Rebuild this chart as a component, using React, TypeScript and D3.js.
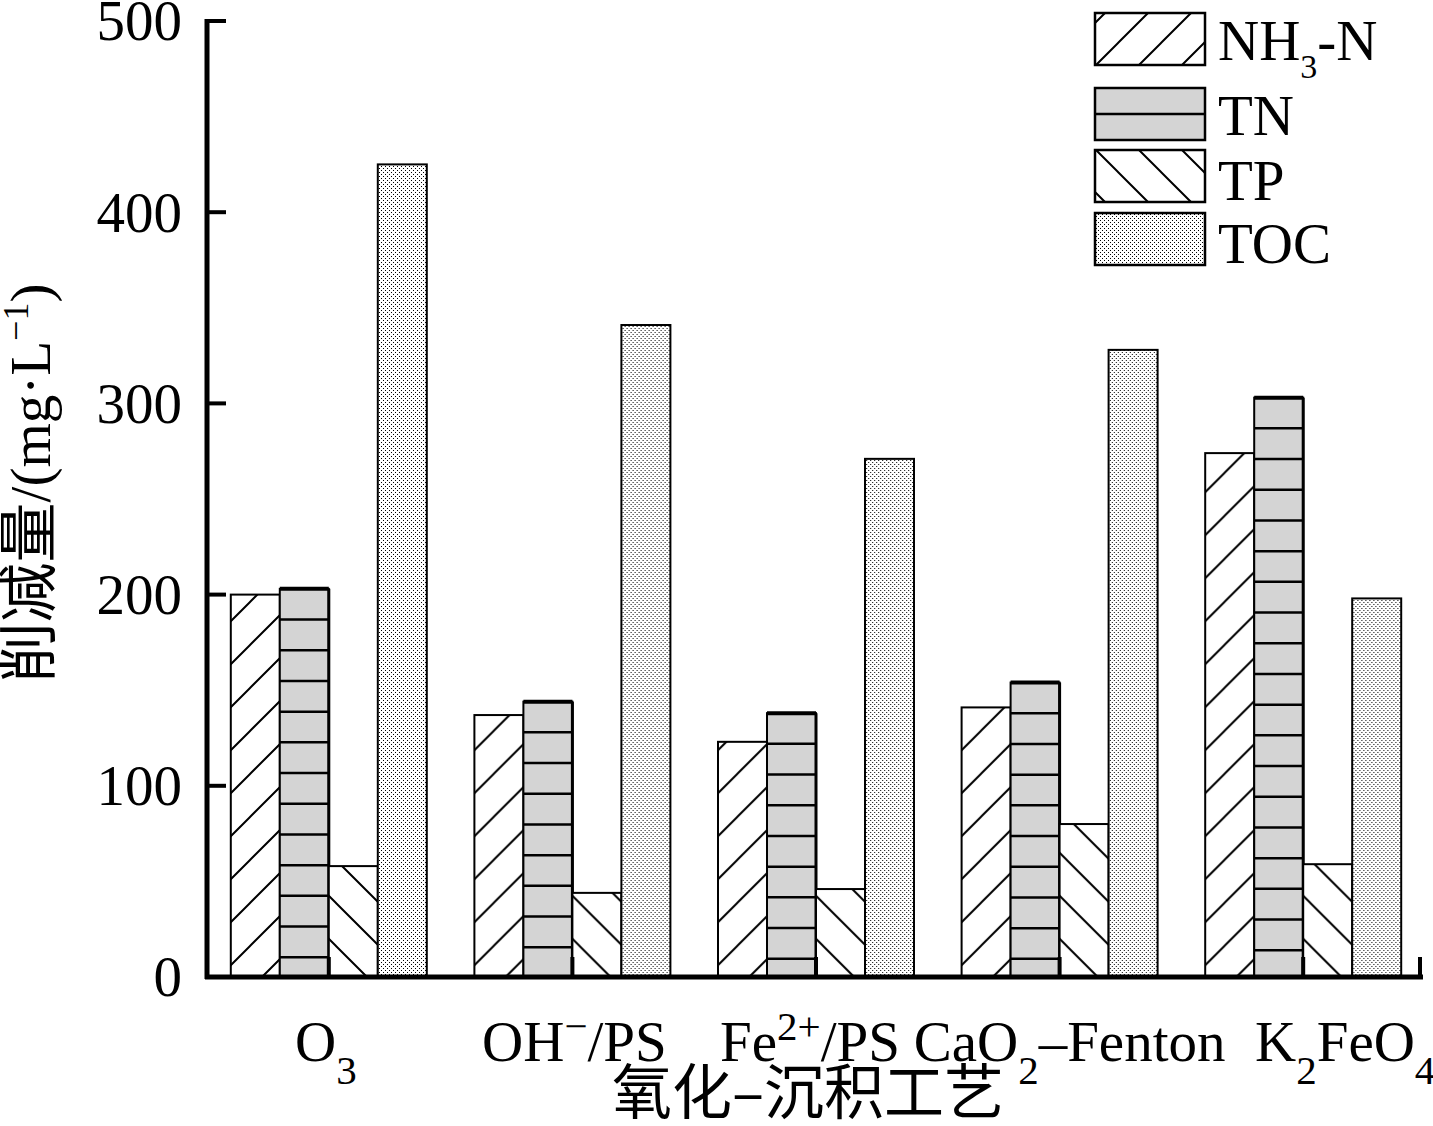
import React from 'react';
import * as d3 from 'd3';

// categories (x axis) and their rich labels: [text, 'sub' | 'sup' | '']
const categories = ['O3', 'OH-/PS', 'Fe2+/PS', 'CaO2-Fenton', 'K2FeO4'];
const categoryLabels: [string, string][][] = [
  [['O', ''], ['3', 'sub']],
  [['OH', ''], ['−', 'sup'], ['/PS', '']],
  [['Fe', ''], ['2+', 'sup'], ['/PS', '']],
  [['CaO', ''], ['2', 'sub'], ['–Fenton', '']],
  [['K', ''], ['2', 'sub'], ['FeO', ''], ['4', 'sub']],
];

const seriesNames = ['NH3-N', 'TN', 'TP', 'TOC'];
const seriesLabels: [string, string][][] = [
  [['NH', ''], ['3', 'sub'], ['-N', '']],
  [['TN', '']],
  [['TP', '']],
  [['TOC', '']],
];

// reduction amounts, mg/L
const nh3n = [200, 137, 123, 141, 274];
const tn = [203, 144, 138, 154, 303];
const tp = [58, 44, 46, 80, 59];
const toc = [425, 341, 271, 328, 198];

const yTicks = [0, 100, 200, 300, 400, 500];

const W = 1433;
const H = 1126;
const serif = '"Liberation Serif", "Times New Roman", serif';
const cjk = '"Noto Sans CJK SC", sans-serif';
const FS = 57;
const GRAY = '#d4d4d4';

function rich(parts: [string, string][], subDy: number, supDy: number, small: number) {
  let shift = 0;
  return parts.map(([t, kind], i) => {
    const target = kind === 'sub' ? subDy : kind === 'sup' ? -supDy : 0;
    const dy = target - shift;
    shift = target;
    return (
      <tspan key={i} dy={dy} fontSize={kind ? small : undefined}>
        {t}
      </tspan>
    );
  });
}

const App: React.FC = () => {
  const left = 207;
  const right = 1425;
  const bottom = 977;
  const top = 21;

  const y = d3.scaleLinear().domain([0, 500]).range([bottom, top]);
  const x0 = d3.scaleBand<string>().domain(categories).range([left, right]).padding(0);
  const bw = x0.bandwidth();
  const barW = 49;
  const x1 = d3
    .scaleBand<string>()
    .domain(seriesNames)
    .range([bw / 2 - 2 * barW, bw / 2 + 2 * barW])
    .padding(0);

  const values: Record<string, number[]> = { 'NH3-N': nh3n, TN: tn, TP: tp, TOC: toc };
  const fills: Record<string, string> = {
    'NH3-N': 'url(#hatchUp)',
    TN: GRAY,
    TP: 'url(#hatchDown)',
    TOC: 'url(#dots)',
  };

  const tnStep = 30.7;
  const labelShift = [-3, 2, -6, 10, 42];
  const legendY = [13, 88, 150, 213];
  const legendBase = [60, 135, 200, 263];

  return (
    <svg width={W} height={H} style={{ position: 'absolute', left: 0, top: 0, background: '#fff' }}>
      <defs>
        <pattern id="hatchUp" patternUnits="userSpaceOnUse" width={43} height={43}>
          <rect width={43} height={43} fill="#fff" />
          <path d="M0,43 L43,0 M-5,5 L5,-5 M38,48 L48,38" stroke="#000" strokeWidth={2} />
        </pattern>
        <pattern id="hatchDown" patternUnits="userSpaceOnUse" width={43} height={43}>
          <rect width={43} height={43} fill="#fff" />
          <path d="M0,0 L43,43 M-5,38 L5,48 M38,-5 L48,5" stroke="#000" strokeWidth={2} />
        </pattern>
        <pattern id="dots" patternUnits="userSpaceOnUse" width={4} height={4}>
          <rect width={4} height={4} fill="#fff" />
          <rect x={0} y={0} width={1} height={1} fill="#000" />
          <rect x={2} y={2} width={1} height={1} fill="#000" />
        </pattern>
      </defs>

      {/* bars */}
      {categories.map((c, ci) => (
        <g key={c} transform={`translate(${x0(c)},0)`}>
          {seriesNames.map((s) => {
            const v = values[s][ci];
            const bx = x1(s)!;
            const by = y(v);
            const bh = bottom - by;
            const lines: number[] = [];
            if (s === 'TN') {
              for (let ly = by + tnStep; ly < bottom - 2; ly += tnStep) lines.push(ly);
            }
            return (
              <g key={s}>
                <rect x={bx} y={by} width={barW} height={bh} fill={fills[s]} stroke="#000" strokeWidth={2} />
                {lines.map((ly, i) => (
                  <line key={i} x1={bx} x2={bx + barW} y1={ly} y2={ly} stroke="#000" strokeWidth={2.5} />
                ))}
                {s === 'TN' && (
                  <>
                    <line x1={bx} x2={bx + barW} y1={by} y2={by} stroke="#000" strokeWidth={4} />
                    <line x1={bx + barW} x2={bx + barW} y1={by} y2={bottom} stroke="#000" strokeWidth={3} />
                  </>
                )}
              </g>
            );
          })}
        </g>
      ))}

      {/* axes */}
      <line x1={left} x2={left} y1={top - 2} y2={bottom + 2} stroke="#000" strokeWidth={5} />
      <line x1={left - 2} x2={right - 2} y1={bottom} y2={bottom} stroke="#000" strokeWidth={5} />
      {yTicks.map((t) => (
        <g key={t}>
          <line x1={left} x2={left + 19} y1={y(t)} y2={y(t)} stroke="#000" strokeWidth={4} />
          <text
            x={182}
            y={y(t)}
            dy="0.34em"
            textAnchor="end"
            fontFamily={serif}
            fontSize={FS}
          >
            {t}
          </text>
        </g>
      ))}
      {categories.map((c) => (
        <line
          key={c}
          x1={x0(c)! + bw / 2}
          x2={x0(c)! + bw / 2}
          y1={bottom}
          y2={bottom - 20}
          stroke="#000"
          strokeWidth={4}
        />
      ))}
      <line x1={right - 5} x2={right - 5} y1={bottom} y2={bottom - 20} stroke="#000" strokeWidth={4} />

      {/* category labels */}
      {categories.map((c, ci) => (
        <text
          key={c}
          x={x0(c)! + bw / 2 + labelShift[ci]}
          y={1061}
          textAnchor="middle"
          fontFamily={serif}
          fontSize={FS}
        >
          {rich(categoryLabels[ci], 23, 21, 41)}
        </text>
      ))}

      {/* axis titles */}
      <text x={808} y={1114} textAnchor="middle" fontFamily={cjk} fontSize={60}>
        氧化–沉积工艺
      </text>
      <text
        transform="translate(50,483) rotate(-90)"
        textAnchor="middle"
        fontFamily={serif}
        fontSize={FS}
      >
        <tspan fontFamily={cjk} fontSize={60}>削减量</tspan>
        <tspan>/(mg·L</tspan>
        <tspan dy={-22} fontSize={36}>−1</tspan>
        <tspan dy={22}>)</tspan>
      </text>

      {/* legend */}
      {seriesNames.map((s, i) => (
        <g key={s}>
          <rect
            x={1095}
            y={legendY[i]}
            width={110}
            height={52}
            fill={fills[s]}
            stroke="#000"
            strokeWidth={2.5}
          />
          {s === 'TN' && (
            <line
              x1={1095}
              x2={1205}
              y1={legendY[i] + 26}
              y2={legendY[i] + 26}
              stroke="#000"
              strokeWidth={2.5}
            />
          )}
          <text x={1218} y={legendBase[i]} fontFamily={serif} fontSize={FS}>
            {rich(seriesLabels[i], 18, 20, 34)}
          </text>
        </g>
      ))}
    </svg>
  );
};

export default App;
